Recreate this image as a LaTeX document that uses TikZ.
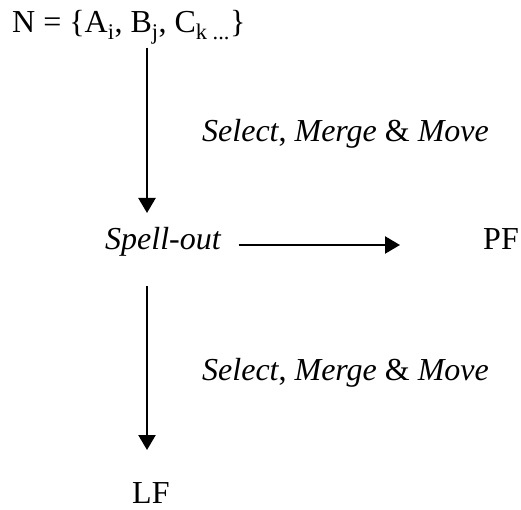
\documentclass[tikz,border=0pt]{standalone}
\usepackage{fontspec}
\setmainfont{Liberation Serif}
\usetikzlibrary{arrows.meta}

\begin{document}
\begin{tikzpicture}[x=1pt,y=-1pt,
    every node/.style={inner sep=0pt,anchor=base west,font=\fontsize{32}{38}\selectfont},
    arr/.style={line width=2.4pt,-{Triangle[length=15pt,width=17pt]}}]
  \useasboundingbox (0,0) rectangle (521,510);

  % numeration, spell-out and the two interfaces
  \node (num) at (12,33) {N = \{A\textsubscript{i}, B\textsubscript{j}, C\textsubscript{k ...}\}};
  \node (spell) at (105,250) {\textit{Spell-out}};
  \node (pf) at (483,250) {PF};
  \node (lf) at (132,503) {LF};
  \coordinate (axis) at (147,0);

  % operations on each branch
  \node (ops1) at (202,142) {\textit{Select}, \textit{Merge} \& \textit{Move}};
  \node (ops2) at (202,380) {\textit{Select}, \textit{Merge} \& \textit{Move}};

  \draw[arr,shorten <=15pt,shorten >=37pt] (num.base -| axis) -- (spell.base -| axis);
  \draw[arr,shorten <=36pt,shorten >=53pt] (spell.base -| axis) -- (lf.base -| axis);
  \draw[arr,shorten <=17pt,shorten >=83pt] ([yshift=5pt]spell.base east) -- ([yshift=5pt]pf.base west);
\end{tikzpicture}
\end{document}
